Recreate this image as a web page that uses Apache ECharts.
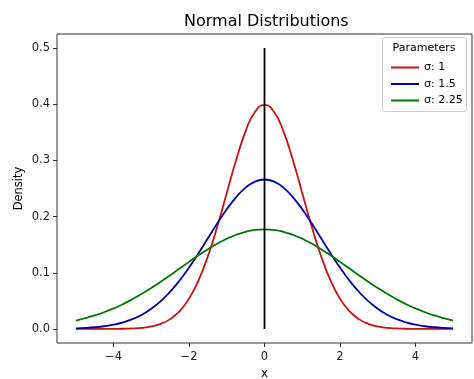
<!DOCTYPE html>
<html><head><meta charset="utf-8">
<script src="https://cdn.jsdelivr.net/npm/echarts@6/dist/echarts.min.js"></script>
<style>html,body{margin:0;padding:0;background:#fff}#c{width:474px;height:379px}</style>
</head><body><div id="c"></div>
<script>
const xs = [-5,-4.75,-4.5,-4.25,-4,-3.75,-3.5,-3.25,-3,-2.75,-2.5,-2.25,-2,-1.75,-1.5,-1.25,-1,-0.75,-0.5,-0.25,0,0.25,0.5,0.75,1,1.25,1.5,1.75,2,2.25,2.5,2.75,3,3.25,3.5,3.75,4,4.25,4.5,4.75,5];
const sigma1 = [0,0,0,0,0.0001,0.0004,0.0009,0.0020,0.0044,0.0091,0.0175,0.0317,0.0540,0.0863,0.1295,0.1826,0.2420,0.3011,0.3521,0.3867,0.3989,0.3867,0.3521,0.3011,0.2420,0.1826,0.1295,0.0863,0.0540,0.0317,0.0175,0.0091,0.0044,0.0020,0.0009,0.0004,0.0001,0,0,0,0];
const sigma15 = [0.0010,0.0018,0.0030,0.0048,0.0076,0.0117,0.0175,0.0254,0.0360,0.0495,0.0663,0.0863,0.1093,0.1347,0.1613,0.1880,0.2130,0.2347,0.2516,0.2623,0.2660,0.2623,0.2516,0.2347,0.2130,0.1880,0.1613,0.1347,0.1093,0.0863,0.0663,0.0495,0.0360,0.0254,0.0175,0.0117,0.0076,0.0048,0.0030,0.0018,0.0010];
const sigma225 = [0.0150,0.0191,0.0240,0.0298,0.0365,0.0442,0.0529,0.0625,0.0729,0.0840,0.0956,0.1075,0.1194,0.1310,0.1420,0.1520,0.1606,0.1677,0.1730,0.1762,0.1773,0.1762,0.1730,0.1677,0.1606,0.1520,0.1420,0.1310,0.1194,0.1075,0.0956,0.0840,0.0729,0.0625,0.0529,0.0442,0.0365,0.0298,0.0240,0.0191,0.0150];
const meanLineX = [0,0];
const meanLineY = [0,0.5];
const seriesNames = ['σ: 1','σ: 1.5','σ: 2.25'];
const xTicks = [-4,-2,0,2,4];
const yTicks = [0,0.1,0.2,0.3,0.4,0.5];

const colors = ['#cc1111','#0000aa','#007700'];
const font = 'DejaVu Sans';
const pair = (a,b)=>a.map((v,i)=>[v,b[i]]);
const mk = (name,vals,c)=>({name,type:'line',data:pair(xs,vals),smooth:0.5,showSymbol:false,
  lineStyle:{color:c,width:1.8},itemStyle:{color:c},z:3});

const chart = echarts.init(document.getElementById('c'),null,{renderer:'canvas'});
chart.setOption({
  animation:false,
  title:{text:'Normal Distributions',left:179,top:9,
    textStyle:{fontFamily:font,fontSize:16,fontWeight:'normal',color:'#000'}},
  grid:{left:57,right:2,top:34,bottom:36,outerBoundsMode:'none',containLabel:false,show:true,borderColor:'#333',borderWidth:1,backgroundColor:'transparent'},
  xAxis:{type:'value',min:-5.5,max:5.5,name:'x',nameLocation:'middle',nameGap:24,
    nameTextStyle:{fontFamily:font,fontSize:12,color:'#000'},
    axisLine:{show:false,onZero:false},splitLine:{show:false},
    axisTick:{show:true,length:4,inside:false,customValues:xTicks,lineStyle:{color:'#333'}},
    axisLabel:{customValues:xTicks,fontFamily:font,fontSize:11.5,color:'#222',margin:8,
      formatter:v=>String(v).replace('-','−')}},
  yAxis:{type:'value',min:-0.025,max:0.525,name:'Density',nameLocation:'middle',nameGap:32,nameMoveOverlap:false,
    nameTextStyle:{fontFamily:font,fontSize:11.5,color:'#000'},
    axisLine:{show:false,onZero:false},splitLine:{show:false},
    axisTick:{show:true,length:4,customValues:yTicks,lineStyle:{color:'#333'}},
    axisLabel:{customValues:yTicks,fontFamily:font,fontSize:11.5,color:'#222',margin:7,
      formatter:v=>v.toFixed(1)}},
  legend:{orient:'vertical',left:386,top:57,itemWidth:28,itemHeight:2,itemGap:5.5,icon:'rect',
    data:seriesNames,textStyle:{fontFamily:font,fontSize:11,color:'#000'}},
  graphic:[
    {type:'rect',shape:{x:382.5,y:37.5,width:84,height:74,r:2},style:{fill:'rgba(255,255,255,0.85)',stroke:'#ccc',lineWidth:1},z:1},
    {type:'text',x:424,y:48,style:{text:'Parameters',fontFamily:font,fontSize:11,fill:'#000',align:'center',verticalAlign:'middle'},z:2}
  ],
  series:[
    mk(seriesNames[0],sigma1,colors[0]),
    mk(seriesNames[1],sigma15,colors[1]),
    mk(seriesNames[2],sigma225,colors[2]),
    {name:'mean',type:'line',data:pair(meanLineX,meanLineY),showSymbol:false,lineStyle:{color:'#000',width:1.8},z:4}
  ]
});
</script></body></html>
